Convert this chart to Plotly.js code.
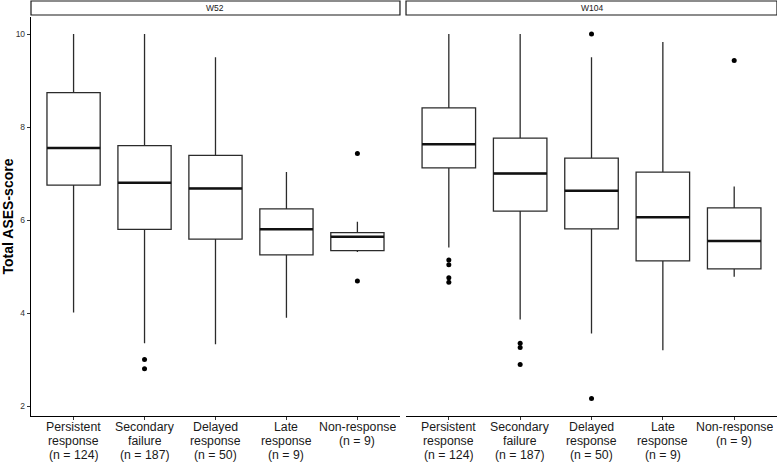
<!DOCTYPE html>
<html>
<head>
<meta charset="utf-8">
<script src="https://cdn.plot.ly/plotly-3.0.1.min.js"></script>
<style>html,body{margin:0;padding:0;background:#fff;}#chart{width:777px;height:462px;}</style>
</head>
<body>
<div id="chart"></div>
<script>
// Categories and tick labels (one array per label line)
const categories = ["Persistent response", "Secondary failure", "Delayed response", "Late response", "Non-response"];
const tickLine1 = ["Persistent", "Secondary", "Delayed", "Late", "Non-response"];
const tickLine2 = ["response", "failure", "response", "response", "(n = 9)"];
const tickLine3 = ["(n = 124)", "(n = 187)", "(n = 50)", "(n = 9)", ""];
const panels = ["W52", "W104"];

// W52 box statistics
const q1_W52 = [6.75, 5.80, 5.59, 5.25, 5.34];
const median_W52 = [7.55, 6.80, 6.68, 5.80, 5.64];
const q3_W52 = [8.74, 7.60, 7.39, 6.24, 5.73];
const lower_W52 = [4.01, 3.35, 3.33, 3.90, 5.31];
const upper_W52 = [10.0, 10.0, 9.50, 7.03, 5.96];
const outlierCat_W52 = [1, 1, 4, 4];
const outlierVal_W52 = [3.00, 2.80, 7.43, 4.69];

// W104 box statistics
const q1_W104 = [7.12, 6.19, 5.81, 5.12, 4.95];
const median_W104 = [7.63, 7.00, 6.63, 6.06, 5.55];
const q3_W104 = [8.41, 7.76, 7.33, 7.03, 6.26];
const lower_W104 = [5.41, 3.86, 3.56, 3.20, 4.78];
const upper_W104 = [10.0, 10.0, 9.50, 9.83, 6.72];
const outlierCat_W104 = [0, 0, 0, 0, 1, 1, 1, 2, 2, 4];
const outlierVal_W104 = [5.14, 5.04, 4.76, 4.66, 3.35, 3.26, 2.89, 10.0, 2.16, 9.43];

const catIdx = categories.map((c, i) => i);
const BOXW = 0.75;
const LINE = '#2b2b2b';

function panelTraces(q1, med, q3, lo, hi, oc, ov, xa, ya) {
  const mx = [], my = [];
  med.forEach((m, i) => { mx.push(i - BOXW / 2, i + BOXW / 2, null); my.push(m, m, null); });
  return [
    {type: 'box', x: catIdx, q1: q1, median: med, q3: q3, lowerfence: lo, upperfence: hi,
     width: BOXW, whiskerwidth: 0, boxpoints: false, fillcolor: '#ffffff',
     line: {color: LINE, width: 1.3}, xaxis: xa, yaxis: ya, hoverinfo: 'skip', showlegend: false},
    {type: 'scatter', mode: 'lines', x: mx, y: my, line: {color: '#111111', width: 2.5},
     xaxis: xa, yaxis: ya, hoverinfo: 'skip', showlegend: false},
    {type: 'scatter', mode: 'markers', x: oc, y: ov, marker: {color: '#000000', size: 5},
     xaxis: xa, yaxis: ya, hoverinfo: 'skip', showlegend: false}
  ];
}

const data = [].concat(
  panelTraces(q1_W52, median_W52, q3_W52, lower_W52, upper_W52, outlierCat_W52, outlierVal_W52, 'x', 'y'),
  panelTraces(q1_W104, median_W104, q3_W104, lower_W104, upper_W104, outlierCat_W104, outlierVal_W104, 'x2', 'y2')
);

const plotH = 462 - 17 - 46;
const FONT = 'Liberation Sans, Arial, Helvetica, sans-serif';
const xCommon = {
  range: [-0.6, 4.6], tickmode: 'array', tickvals: catIdx, showticklabels: false,
  showline: true, linecolor: '#000000', linewidth: 1.2, ticks: 'outside', ticklen: 3, tickcolor: '#333333',
  showgrid: false, zeroline: false, fixedrange: true
};

const annotations = [];
const tickLines = [tickLine1, tickLine2, tickLine3];
['x', 'x2'].forEach(xa => {
  tickLines.forEach((line, k) => {
    line.forEach((txt, i) => {
      if (!txt) return;
      annotations.push({text: txt, xref: xa, yref: 'paper', x: i, y: 0, yshift: -(11 + 14.2 * k),
        height: 14.2, valign: 'middle',
        showarrow: false, xanchor: 'center', yanchor: 'middle',
        font: {family: FONT, size: 12.3, color: '#1a1a1a'}});
    });
  });
});
['x', 'x2'].forEach((xa, p) => {
  annotations.push({text: panels[p], xref: xa + ' domain', yref: 'paper', x: 0.5, y: 1 + 9 / plotH, showarrow: false,
    xanchor: 'center', yanchor: 'middle', font: {family: FONT, size: 8.5, color: '#1a1a1a'}});
});

const layout = {
  width: 777, height: 462,
  margin: {l: 31, r: 0, t: 17, b: 46},
  paper_bgcolor: '#ffffff', plot_bgcolor: '#ffffff',
  showlegend: false,
  font: {family: FONT},
  xaxis: Object.assign({}, xCommon, {domain: [0, 0.4946], anchor: 'y'}),
  xaxis2: Object.assign({}, xCommon, {domain: [0.5027, 1], anchor: 'y2'}),
  yaxis: {
    range: [1.785, 10.366], tickvals: [2, 4, 6, 8, 10], ticks: 'outside', ticklen: 3, tickcolor: '#333333',
    showline: true, linecolor: '#000000', linewidth: 1.2, showgrid: false, zeroline: false,
    tickfont: {family: FONT, size: 8.5, color: '#333333'}, anchor: 'x', fixedrange: true,
    title: {text: 'Total ASES-score', font: {family: FONT, size: 14, color: '#000000', weight: 'bold'}, standoff: 4}
  },
  yaxis2: {
    range: [1.785, 10.366], matches: 'y', showline: false, showticklabels: false, ticks: '',
    showgrid: false, zeroline: false, anchor: 'x2', fixedrange: true
  },
  shapes: ['x', 'x2'].map(xa => ({type: 'rect', xref: xa + ' domain', yref: 'paper', x0: 0, x1: 1,
    y0: 1 + 2 / plotH, y1: 1 + 16 / plotH, fillcolor: '#ffffff', line: {color: '#1a1a1a', width: 1.2}})),
  annotations: annotations
};

Plotly.newPlot('chart', data, layout, {displayModeBar: false, staticPlot: true});
</script>
</body>
</html>
